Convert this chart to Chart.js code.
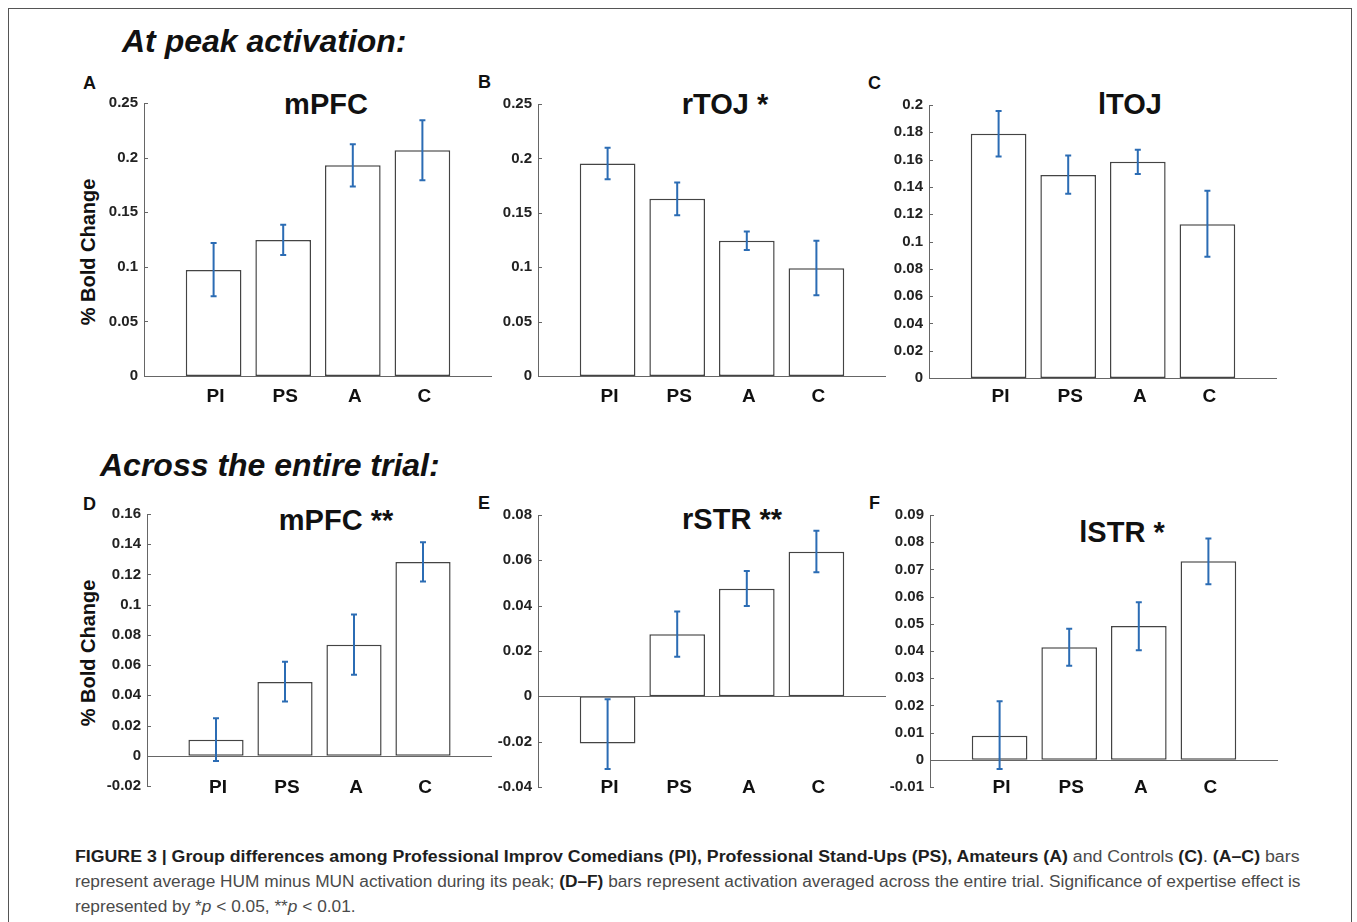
<!DOCTYPE html>
<html lang="en">
<head>
<meta charset="UTF-8">
<title>Figure 3 - group differences</title>
<script src="https://cdn.jsdelivr.net/npm/chart.js@4.4.0/dist/chart.umd.min.js"></script>
<style>
    body { margin: 0; background: #fff; font-family: 'Liberation Sans', Arial, Helvetica, sans-serif; }
    #page { position: relative; width: 1357px; height: 922px; overflow: hidden; }
    #frame { position: absolute; left: 8px; top: 8px; width: 1342px; height: 960px; border: 1.5px solid #555; }
    .heading { position: absolute; font-weight: bold; font-style: italic; font-size: 32px; line-height: 1; color: #111; white-space: nowrap; }
    .letter { position: absolute; font-weight: bold; font-size: 18px; line-height: 1; color: #111; }
    .ttl { position: absolute; font-weight: bold; font-size: 29px; line-height: 1; color: #111; transform: translateX(-50%); white-space: nowrap; }
    .ylab { position: absolute; font-weight: bold; font-size: 20px; line-height: 1; color: #111; transform: translate(-50%, -50%) rotate(-90deg); white-space: nowrap; }
    .cap { position: absolute; left: 75px; font-size: 16px; line-height: 18px; color: #4a4a4a; white-space: nowrap; transform-origin: 0 50%; }
    .cap b { color: #1e1e1e; }
</style>
</head>
<body>
<div id="page">
    <div id="frame"></div>

    <div class="heading" style="left:122px;top:25px">At peak activation:</div>
    <div class="heading" style="left:100px;top:449px">Across the entire trial:</div>

    <div class="letter" style="left:83px;top:74px">A</div>
    <div class="letter" style="left:478px;top:73px">B</div>
    <div class="letter" style="left:868px;top:74px">C</div>
    <div class="letter" style="left:83px;top:495px">D</div>
    <div class="letter" style="left:478px;top:494px">E</div>
    <div class="letter" style="left:869px;top:494px">F</div>

    <div class="ttl" style="left:326px;top:90px">mPFC</div>
    <div class="ttl" style="left:725px;top:90px">rTOJ *</div>
    <div class="ttl" style="left:1130px;top:90px">lTOJ</div>
    <div class="ttl" style="left:336px;top:506px">mPFC **</div>
    <div class="ttl" style="left:732px;top:505px">rSTR **</div>
    <div class="ttl" style="left:1122px;top:518px">lSTR *</div>

    <div class="ylab" style="left:88px;top:252px">% Bold Change</div>
    <div class="ylab" style="left:88px;top:653px">% Bold Change</div>

    <div class="cap" id="cap1" style="top:848px"><b>FIGURE 3 | Group differences among Professional Improv Comedians (PI), Professional Stand-Ups (PS), Amateurs (A)</b> and Controls <b>(C)</b>. <b>(A–C)</b> bars</div>
    <div class="cap" id="cap2" style="top:873px">represent average HUM minus MUN activation during its peak; <b>(D–F)</b> bars represent activation averaged across the entire trial. Significance of expertise effect is</div>
    <div class="cap" id="cap3" style="top:898px">represented by *<i>p</i> &lt; 0.05, **<i>p</i> &lt; 0.01.</div>
</div>

<script>
    // groups on the x axis
    var categories = ['PI', 'PS', 'A', 'C'];
    var xPos = [1, 2, 3, 4];

    // A-C : at peak activation
    var peakMPFC = [0.097, 0.1245, 0.193, 0.2068];
    var peakMPFCLow = [0.0731, 0.1108, 0.1736, 0.1793];
    var peakMPFCHigh = [0.1218, 0.1385, 0.2122, 0.2342];

    var peakRTOJ = [0.1952, 0.1629, 0.1242, 0.099];
    var peakRTOJLow = [0.1809, 0.1477, 0.1157, 0.0743];
    var peakRTOJHigh = [0.2098, 0.1778, 0.1328, 0.1242];

    var peakLTOJ = [0.179, 0.1488, 0.1585, 0.1127];
    var peakLTOJLow = [0.1622, 0.1349, 0.1495, 0.0888];
    var peakLTOJHigh = [0.1956, 0.163, 0.1673, 0.1371];

    // D-F : across the entire trial
    var trialMPFC = [0.0106, 0.0489, 0.0735, 0.1283];
    var trialMPFCLow = [-0.0035, 0.0359, 0.0537, 0.1153];
    var trialMPFCHigh = [0.0249, 0.0623, 0.0935, 0.1413];

    var trialRSTR = [-0.0208, 0.0274, 0.0475, 0.0638];
    var trialRSTRLow = [-0.0321, 0.0175, 0.0398, 0.0547];
    var trialRSTRHigh = [-0.0013, 0.0374, 0.0553, 0.0731];

    var trialLSTR = [0.0088, 0.0414, 0.0492, 0.073];
    var trialLSTRLow = [-0.0034, 0.0346, 0.0403, 0.0645];
    var trialLSTRHigh = [0.0215, 0.0482, 0.0579, 0.0814];

    // y tick ranges: [min, max, step]
    var peakMPFCTicks = [0, 0.25, 0.05];
    var peakRTOJTicks = [0, 0.25, 0.05];
    var peakLTOJTicks = [0, 0.2, 0.02];
    var trialMPFCTicks = [-0.02, 0.16, 0.02];
    var trialRSTRTicks = [-0.04, 0.08, 0.02];
    var trialLSTRTicks = [-0.01, 0.09, 0.01];

    Chart.defaults.font.family = "'Liberation Sans', Arial, Helvetica, sans-serif";

    var YW = 70, PT = 14, PB = 40, PR = 6;
    var ERR_COLOR = '#2b6cb4';

    // axis position on the page for each panel (layout only)
    var panels = [
        { axisX: 144, top: 102, bottom: 376, w: 348, lab: 21, v: peakMPFC, lo: peakMPFCLow, hi: peakMPFCHigh, t: peakMPFCTicks },
        { axisX: 537.5, top: 103, bottom: 376, w: 348, lab: 21, v: peakRTOJ, lo: peakRTOJLow, hi: peakRTOJHigh, t: peakRTOJTicks },
        { axisX: 929, top: 104, bottom: 378, w: 348, lab: 19, v: peakLTOJ, lo: peakLTOJLow, hi: peakLTOJHigh, t: peakLTOJTicks },
        { axisX: 147, top: 513, bottom: 786, w: 345, lab: 2, v: trialMPFC, lo: trialMPFCLow, hi: trialMPFCHigh, t: trialMPFCTicks },
        { axisX: 537.5, top: 514, bottom: 787, w: 348, lab: 1, v: trialRSTR, lo: trialRSTRLow, hi: trialRSTRHigh, t: trialRSTRTicks },
        { axisX: 930, top: 514, bottom: 787, w: 348, lab: 1, v: trialLSTR, lo: trialLSTRLow, hi: trialLSTRHigh, t: trialLSTRTicks }
    ];

    function fmt(v) {
        return String(+v.toFixed(4));
    }

    var decorations = {
        id: 'decorations',
        afterDatasetsDraw: function (chart) {
            var p = chart.config.options.panel;
            var ctx = chart.ctx;
            var area = chart.chartArea;
            var ys = chart.scales.y;
            var meta = chart.getDatasetMeta(0);
            ctx.save();

            // x axis line drawn at zero
            var y0 = Math.round(ys.getPixelForValue(0)) + 0.5;
            ctx.strokeStyle = '#666';
            ctx.lineWidth = 1;
            ctx.beginPath();
            ctx.moveTo(area.left, y0);
            ctx.lineTo(area.right, y0);
            ctx.stroke();

            // small inward ticks on the y axis
            ys.ticks.forEach(function (tk) {
                var ty = Math.round(ys.getPixelForValue(tk.value)) + 0.5;
                ctx.beginPath();
                ctx.moveTo(area.left, ty);
                ctx.lineTo(area.left + 4, ty);
                ctx.stroke();
            });

            // error bars
            ctx.strokeStyle = ERR_COLOR;
            ctx.lineWidth = 2;
            meta.data.forEach(function (bar, i) {
                var yl = ys.getPixelForValue(p.lo[i]);
                var yh = ys.getPixelForValue(p.hi[i]);
                ctx.beginPath();
                ctx.moveTo(bar.x, yl);
                ctx.lineTo(bar.x, yh);
                ctx.moveTo(bar.x - 3, yl);
                ctx.lineTo(bar.x + 3, yl);
                ctx.moveTo(bar.x - 3, yh);
                ctx.lineTo(bar.x + 3, yh);
                ctx.stroke();
            });

            // group labels
            ctx.fillStyle = '#111';
            ctx.font = "bold 19px 'Liberation Sans', Arial, sans-serif";
            ctx.textAlign = 'center';
            ctx.textBaseline = 'middle';
            meta.data.forEach(function (bar, i) {
                ctx.fillText(categories[i], bar.x + 2, area.bottom + p.lab);
            });
            ctx.restore();
        }
    };

    var page = document.getElementById('page');
    panels.forEach(function (p) {
        var wrap = document.createElement('div');
        wrap.style.position = 'absolute';
        wrap.style.left = (p.axisX - YW) + 'px';
        wrap.style.top = (p.top - PT) + 'px';
        wrap.style.width = (YW + p.w + PR) + 'px';
        wrap.style.height = (p.bottom - p.top + PT + PB) + 'px';
        var cv = document.createElement('canvas');
        wrap.appendChild(cv);
        page.appendChild(wrap);

        new Chart(cv, {
            type: 'bar',
            data: {
                datasets: [{
                    data: p.v.map(function (v, i) { return { x: xPos[i], y: v }; }),
                    backgroundColor: '#fff',
                    borderColor: '#444',
                    borderWidth: 1.5,
                    borderSkipped: false,
                    barPercentage: 0.8,
                    categoryPercentage: 1
                }]
            },
            options: {
                panel: p,
                responsive: true,
                maintainAspectRatio: false,
                animation: false,
                layout: { padding: { top: PT, bottom: PB, right: PR, left: 0 } },
                plugins: { legend: { display: false }, tooltip: { enabled: false } },
                scales: {
                    x: { type: 'linear', min: 0, max: 5, offset: false, display: false },
                    y: {
                        min: p.t[0],
                        max: p.t[1],
                        afterFit: function (s) { s.width = YW; },
                        grid: { display: false, drawTicks: false },
                        border: { display: true, color: '#666', width: 1 },
                        ticks: {
                            stepSize: p.t[2],
                            padding: 6,
                            color: '#222',
                            font: { size: 15, weight: 'bold' },
                            callback: function (v) { return fmt(v); }
                        }
                    }
                }
            },
            plugins: [decorations]
        });
    });

    // squeeze the caption lines to the width of the printed column
    var c1 = document.getElementById('cap1');
    var c2 = document.getElementById('cap2');
    var c3 = document.getElementById('cap3');
    [c1, c2, c3].forEach(function (c) { c.style.display = 'inline-block'; });
    var s1 = 1225 / c1.offsetWidth;
    var s2 = 1225 / c2.offsetWidth;
    c1.style.transform = 'scaleX(' + s1 + ')';
    c2.style.transform = 'scaleX(' + s2 + ')';
    c3.style.transform = 'scaleX(' + s2 + ')';
</script>
</body>
</html>
